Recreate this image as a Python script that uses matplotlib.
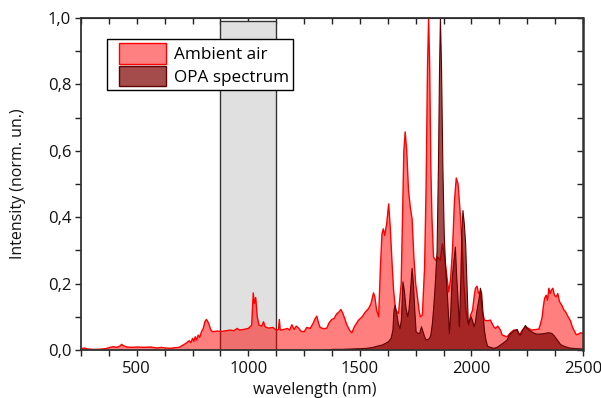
import matplotlib
matplotlib.use("Agg")
import matplotlib.pyplot as plt
from matplotlib.ticker import MultipleLocator, FuncFormatter
from matplotlib.patches import Patch, Rectangle

# ---------------- data ----------------
air_wl = [250, 265, 280, 300, 330, 360, 380, 395, 410, 425, 432, 440, 455, 480, 500, 530, 560, 590,
          610, 630, 650, 670, 690, 705, 720, 735, 742, 750, 756, 762, 768, 775, 782, 790, 798, 805,
          812, 818, 825, 832, 840, 860, 880, 900, 920, 935, 950, 960, 980, 1000, 1015, 1022, 1027,
          1033, 1040, 1048, 1060, 1068, 1075, 1090, 1110, 1125, 1135, 1139, 1143, 1160, 1175, 1185,
          1195, 1205, 1215, 1225, 1237, 1250, 1262, 1277, 1290, 1300, 1307, 1315, 1322, 1337, 1352,
          1362, 1374, 1385, 1395, 1407, 1415, 1425, 1442, 1455, 1464, 1475, 1494, 1510, 1525, 1539,
          1550, 1561, 1567, 1575, 1584, 1592, 1599, 1605, 1611, 1620, 1629, 1636, 1644, 1651, 1660,
          1673, 1685, 1692, 1697, 1703, 1710, 1718, 1726, 1734, 1742, 1750, 1756, 1765, 1771, 1780,
          1790, 1797, 1803, 1808, 1813, 1818, 1823, 1830, 1840, 1850, 1860, 1870, 1880, 1890, 1898,
          1906, 1915, 1924, 1932, 1940, 1950, 1958, 1966, 1975, 1982, 1988, 1996, 2005, 2012, 2018,
          2025, 2032, 2040, 2048, 2058, 2070, 2085, 2100, 2108, 2118, 2130, 2138, 2150, 2160, 2175,
          2190, 2205, 2215, 2228, 2242, 2256, 2270, 2290, 2302, 2310, 2317, 2323, 2328, 2335, 2341,
          2347, 2353, 2358, 2365, 2372, 2380, 2387, 2395, 2405, 2415, 2422, 2435, 2444, 2452, 2459,
          2470, 2480, 2489, 2500]
air_int = [0.004, 0.006, 0.003, 0.002, 0.002, 0.004, 0.008, 0.010, 0.008, 0.012, 0.017, 0.013, 0.009,
           0.008, 0.009, 0.008, 0.009, 0.006, 0.008, 0.006, 0.005, 0.007, 0.008, 0.014, 0.020, 0.028,
           0.022, 0.035, 0.026, 0.040, 0.030, 0.045, 0.038, 0.055, 0.065, 0.085, 0.092, 0.086, 0.075,
           0.060, 0.055, 0.057, 0.056, 0.058, 0.060, 0.058, 0.065, 0.060, 0.062, 0.065, 0.075, 0.172,
           0.140, 0.158, 0.100, 0.075, 0.072, 0.085, 0.070, 0.066, 0.068, 0.060, 0.062, 0.092, 0.060,
           0.062, 0.065, 0.060, 0.076, 0.062, 0.072, 0.066, 0.056, 0.055, 0.068, 0.065, 0.080, 0.095,
           0.102, 0.080, 0.068, 0.064, 0.066, 0.082, 0.092, 0.095, 0.108, 0.115, 0.122, 0.108, 0.075,
           0.058, 0.052, 0.070, 0.090, 0.100, 0.115, 0.125, 0.140, 0.172, 0.160, 0.120, 0.100, 0.250,
           0.350, 0.365, 0.345, 0.380, 0.440, 0.370, 0.265, 0.180, 0.120, 0.110, 0.200, 0.440, 0.600,
           0.657, 0.600, 0.480, 0.430, 0.395, 0.280, 0.200, 0.170, 0.120, 0.100, 0.105, 0.250, 0.500,
           0.850, 1.000, 0.850, 0.550, 0.400, 0.280, 0.270, 0.280, 0.270, 0.320, 0.280, 0.220, 0.175,
           0.210, 0.300, 0.450, 0.518, 0.500, 0.410, 0.320, 0.200, 0.120, 0.090, 0.075, 0.105, 0.120,
           0.160, 0.186, 0.192, 0.170, 0.175, 0.120, 0.090, 0.088, 0.090, 0.070, 0.065, 0.072, 0.060,
           0.045, 0.042, 0.040, 0.052, 0.060, 0.060, 0.045, 0.060, 0.070, 0.065, 0.060, 0.062, 0.063,
           0.080, 0.100, 0.135, 0.156, 0.165, 0.150, 0.186, 0.170, 0.180, 0.186, 0.165, 0.160, 0.170,
           0.145, 0.135, 0.120, 0.115, 0.098, 0.088, 0.070, 0.060, 0.046, 0.048, 0.052, 0.050]

opa_wl = [1350, 1380, 1420, 1460, 1500, 1530, 1560, 1580, 1600, 1615, 1628, 1640, 1648, 1653, 1658,
          1664, 1672, 1680, 1686, 1693, 1700, 1706, 1714, 1720, 1727, 1734, 1740, 1746, 1752, 1760,
          1768, 1776, 1783, 1790, 1797, 1805, 1812, 1818, 1825, 1831, 1838, 1846, 1852, 1857, 1861,
          1866, 1872, 1878, 1884, 1890, 1896, 1901, 1907, 1913, 1920, 1928, 1934, 1940, 1946, 1952,
          1957, 1962, 1968, 1974, 1980, 1986, 1992, 1999, 2006, 2012, 2018, 2025, 2033, 2040, 2046,
          2052, 2058, 2065, 2072, 2085, 2100, 2115, 2130, 2145, 2160, 2170, 2180, 2192, 2205, 2212,
          2220, 2230, 2242, 2250, 2262, 2275, 2290, 2310, 2330, 2345, 2360, 2372, 2385, 2400, 2420,
          2440, 2470, 2500]
opa_int = [0.000, 0.002, 0.002, 0.003, 0.004, 0.005, 0.008, 0.012, 0.015, 0.020, 0.025, 0.035, 0.060,
           0.120, 0.135, 0.115, 0.080, 0.065, 0.090, 0.205, 0.175, 0.130, 0.100, 0.120, 0.180, 0.246,
           0.200, 0.120, 0.055, 0.050, 0.050, 0.070, 0.055, 0.040, 0.030, 0.032, 0.035, 0.045, 0.080,
           0.130, 0.200, 0.300, 0.550, 0.850, 1.000, 0.850, 0.550, 0.350, 0.250, 0.190, 0.120, 0.050,
           0.110, 0.210, 0.260, 0.310, 0.220, 0.150, 0.070, 0.200, 0.350, 0.420, 0.380, 0.320, 0.200,
           0.080, 0.090, 0.100, 0.085, 0.070, 0.085, 0.120, 0.150, 0.186, 0.170, 0.110, 0.060, 0.030,
           0.012, 0.008, 0.005, 0.008, 0.015, 0.022, 0.030, 0.045, 0.052, 0.058, 0.062, 0.050, 0.045,
           0.060, 0.074, 0.065, 0.058, 0.053, 0.048, 0.048, 0.050, 0.052, 0.050, 0.042, 0.030, 0.016,
           0.010, 0.006, 0.004, 0.003]

band_range = (875, 1125)
series_labels = ["Ambient air", "OPA spectrum"]

# ---------------- plot ----------------
plt.rcParams['font.family'] = ['Open Sans', 'DejaVu Sans']
FS = 11.5
TFS = 12
LFS = 12.3
W, H = 601, 398
fig = plt.figure(figsize=(W / 100, H / 100), dpi=100)
AX_L, AX_R, AX_T, AX_B = 81, 583, 18, 350
ax = fig.add_axes([AX_L / W, 1 - AX_B / H, (AX_R - AX_L) / W, (AX_B - AX_T) / H])

def ax_frac(px, py):
    return (px - AX_L) / (AX_R - AX_L), (AX_B - py) / (AX_B - AX_T)

ax.axvspan(band_range[0], band_range[1], ymin=0, ymax=0.99, facecolor='#e0e0e0',
           edgecolor='#333333', lw=1.0, zorder=0.5)

ax.fill_between(air_wl, air_int, 0, facecolor=(1, 0, 0, 0.5), edgecolor='none', zorder=1)
ax.plot(air_wl, air_int, color='#ff0000', lw=1.0, zorder=1.2)

ax.fill_between(opa_wl, opa_int, 0, facecolor=(0.5, 0, 0, 0.7), edgecolor='none', zorder=2)
ax.plot(opa_wl, opa_int, color='#600000', lw=0.8, zorder=2.2)

ax.set_xlim(250, 2500)
ax.set_ylim(0, 1.0)

ax.xaxis.set_major_locator(MultipleLocator(500))
ax.xaxis.set_minor_locator(MultipleLocator(125))
ax.yaxis.set_major_locator(MultipleLocator(0.2))
ax.yaxis.set_minor_locator(MultipleLocator(0.1))
ax.yaxis.set_major_formatter(FuncFormatter(lambda v, p: f"{v:.1f}".replace('.', ',')))

for side in ['left', 'bottom', 'right', 'top']:
    ax.spines[side].set_color('#333333')
    ax.spines[side].set_linewidth(1.3)
ax.spines['right'].set_linewidth(1.8)

ax.tick_params(axis='both', which='both', length=4, width=1, color='#222222',
               labelsize=TFS, labelcolor='#111111')
ax.tick_params(axis='both', which='both', direction='out', top=False, right=False)
ax.tick_params(axis='x', which='both', pad=4)
ax.tick_params(axis='y', which='both', pad=3)

axt = ax.secondary_xaxis('top')
axt.xaxis.set_major_locator(MultipleLocator(125))
axt.tick_params(direction='in', length=4, width=1, color='#222222', labeltop=False)
axr = ax.secondary_yaxis('right')
axr.yaxis.set_major_locator(MultipleLocator(0.1))
axr.tick_params(direction='in', length=4, width=1, color='#222222', labelright=False)

fig.text(18 / W, 1 - 184 / H, "Intensity (norm. un.)", rotation=90, ha='center', va='center',
         fontsize=FS, color='#111111')
fig.text(315 / W, 1 - 390 / H, "wavelength (nm)", ha='center', va='center',
         fontsize=FS, color='#111111')

# legend frame
fx0, fy0 = ax_frac(107, 90)
fx1, fy1 = ax_frac(293, 39)
ax.add_patch(Rectangle((fx0, fy0), fx1 - fx0, fy1 - fy0, transform=ax.transAxes,
                       facecolor='white', edgecolor='#000000', lw=1.0, zorder=4.9))

h1 = Patch(facecolor='#ff8080', edgecolor='#ff0000', lw=1)
h2 = Patch(facecolor='#a44c4c', edgecolor='#600000', lw=1)
fs_px = LFS * 100 / 72
leg = ax.legend([h1, h2], series_labels, loc='upper left',
                bbox_to_anchor=ax_frac(119, 43),
                fontsize=LFS, handlelength=47 / fs_px, handleheight=1.5,
                labelspacing=0.1, borderpad=0, handletextpad=0.45, borderaxespad=0,
                frameon=False)
leg.set_zorder(5)

fig.savefig("out.png", dpi=100)
